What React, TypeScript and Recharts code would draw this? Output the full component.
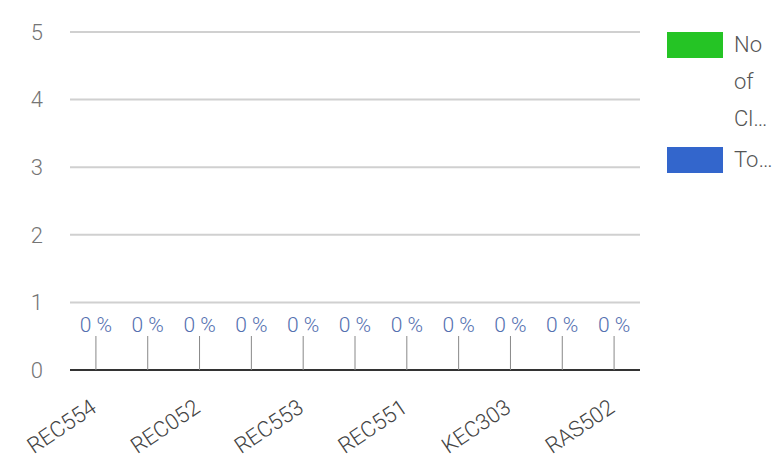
import React from "react";
import { ComposedChart, Bar, Line, XAxis, YAxis, CartesianGrid, Legend } from "recharts";

const categories = ["REC554", "REC055", "REC052", "REC056", "REC553", "REC057", "REC551", "KEC301", "KEC303", "RAS501", "RAS502"];
const noOfClasses = [0, 0, 0, 0, 0, 0, 0, 0, 0, 0, 0];
const totalPercent = [0, 0, 0, 0, 0, 0, 0, 0, 0, 0, 0];
const yTicks = [0, 1, 2, 3, 4, 5];
const seriesNames = ["No of Classes", "Total %"];
const legendLines = [["No", "of", "Cl…"], ["To…"]];
const seriesColors = ["#25c425", "#3366cc"];

const data = categories.map((name, i) => ({
  name,
  noOfClasses: noOfClasses[i],
  totalPercent: totalPercent[i],
}));

const FONT = "Roboto, 'Noto Sans', sans-serif";

const XTick = (props: any) => {
  const { x, y, payload } = props;
  const ax = x + 2;
  const ay = y + 33;
  return (
    <text
      x={ax}
      y={ay}
      textAnchor="end"
      transform={`rotate(-34, ${ax}, ${ay})`}
      fill="#444"
      fontSize={22}
      fontFamily={FONT}
      fontWeight={300}
    >
      {payload.value}
    </text>
  );
};

const Annotation = (props: any) => {
  const { x, y, value } = props;
  if (x == null || y == null) return null;
  return (
    <g>
      <line x1={x} y1={y} x2={x} y2={y - 34} stroke="#888" strokeWidth={1} />
      <text x={x} y={y - 38} textAnchor="middle" fill="#5470b0" fontSize={21} fontFamily={FONT} fontWeight={300}>
        {`${value} %`}
      </text>
    </g>
  );
};

const LegendContent = () => (
  <div style={{ fontFamily: FONT, fontWeight: 300, fontSize: 22, color: "#555" }}>
    {legendLines.map((lines, i) => (
      <div key={seriesNames[i]} style={{ display: "flex", alignItems: "flex-start", marginBottom: 8 }}>
        <div style={{ width: 56, height: 26, background: seriesColors[i], marginTop: 2, marginRight: 11, flexShrink: 0 }} />
        <div style={{ lineHeight: "37px", marginTop: -4 }}>
          {lines.map((l) => (
            <div key={l}>{l}</div>
          ))}
        </div>
      </div>
    ))}
  </div>
);

export default function App() {
  return (
    <div style={{ position: "absolute", left: 0, top: 0 }}>
      <ComposedChart width={781} height={457} data={data} margin={{ top: 32, right: 27, bottom: 0, left: 0 }}>
        <CartesianGrid horizontal vertical={false} stroke="#d0d0d0" strokeWidth={2} />
        <XAxis
          dataKey="name"
          interval={1}
          tickLine={false}
          axisLine={{ stroke: "#333", strokeWidth: 2 }}
          tick={<XTick />}
          height={87}
        />
        <YAxis
          domain={[0, 5]}
          ticks={yTicks}
          axisLine={false}
          tickLine={false}
          width={70}
          tickMargin={21}
          tick={{ fill: "#757575", fontSize: 22, fontFamily: FONT, fontWeight: 300 }}
        />
        <Legend
          layout="vertical"
          verticalAlign="top"
          align="right"
          content={<LegendContent />}
          wrapperStyle={{ left: 667, top: 30, width: 114 }}
        />
        <Bar dataKey="noOfClasses" name={seriesNames[0]} fill={seriesColors[0]} isAnimationActive={false} />
        <Bar dataKey="totalPercent" name={seriesNames[1]} fill={seriesColors[1]} isAnimationActive={false} />
        <Line
          dataKey="totalPercent"
          stroke="none"
          dot={false}
          legendType="none"
          isAnimationActive={false}
          label={<Annotation />}
        />
      </ComposedChart>
    </div>
  );
}
